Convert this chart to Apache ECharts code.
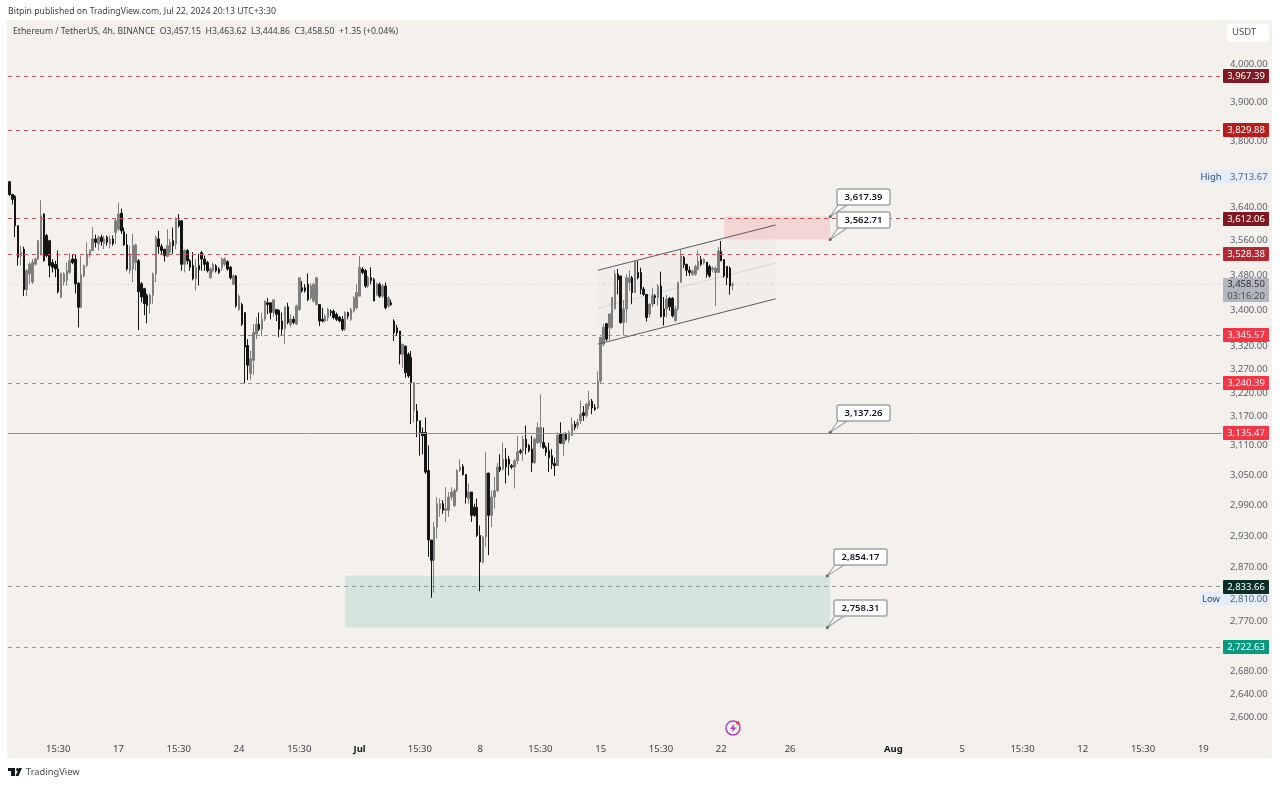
<!DOCTYPE html>
<html>
<head>
<meta charset="utf-8">
<title>ETHUSDT 4h</title>
<script src="https://cdn.jsdelivr.net/npm/echarts@6/dist/echarts.min.js"></script>
<style>
  html, body { margin: 0; padding: 0; background: #fff; }
  #chart { width: 1280px; height: 785px; }
</style>
</head>
<body>
<div id="chart"></div>
<script>
// candles, one row per 4h bar: open, close, low, high
const candles = [
  [3701,3670,3666,3703],[3670,3658,3646,3672],[3666,3595,3568,3668],[3595,3521,3502,3597],[3525,3533,3502,3548],
  [3540,3447,3432,3546],[3447,3490,3432,3494],[3483,3505,3460,3509],[3464,3509,3460,3517],[3505,3517,3502,3521],
  [3517,3560,3515,3562],[3529,3619,3525,3656],[3623,3513,3511,3625],[3572,3525,3521,3576],[3560,3502,3475,3562],
  [3509,3498,3486,3517],[3505,3494,3475,3513],[3494,3442,3438,3537],[3430,3483,3427,3486],[3464,3483,3456,3486],
  [3468,3490,3456,3509],[3486,3513,3483,3531],[3517,3509,3505,3529],[3517,3460,3438,3527],[3461,3407,3362,3464],
  [3407,3481,3405,3525],[3478,3502,3475,3504],[3502,3529,3498,3556],[3529,3537,3521,3540],[3537,3564,3535,3592],
  [3564,3556,3544,3574],[3552,3568,3537,3572],[3568,3558,3548,3574],[3553,3564,3540,3572],[3568,3556,3548,3572],
  [3552,3564,3542,3572],[3564,3553,3548,3572],[3579,3607,3552,3611],[3587,3623,3583,3650],[3625,3583,3576,3636],
  [3581,3550,3548,3591],[3550,3494,3490,3576],[3490,3529,3483,3548],[3494,3548,3464,3576],[3509,3550,3490,3553],
  [3513,3442,3356,3517],[3460,3430,3418,3464],[3449,3415,3389,3451],[3434,3411,3371,3438],[3415,3434,3393,3438],
  [3434,3483,3415,3486],[3483,3568,3464,3572],[3564,3546,3529,3583],[3546,3537,3529,3552],[3540,3525,3511,3540],
  [3523,3548,3521,3587],[3533,3556,3529,3564],[3560,3548,3529,3591],[3552,3611,3540,3615],[3607,3595,3591,3623],
  [3607,3505,3490,3607],[3505,3537,3486,3540],[3537,3513,3505,3540],[3513,3498,3490,3517],[3502,3472,3468,3533],
  [3472,3498,3445,3517],[3502,3492,3456,3529],[3532,3517,3490,3536],[3517,3505,3490,3525],[3509,3490,3486,3513],
  [3474,3494,3472,3498],[3490,3505,3486,3509],[3501,3490,3486,3505],[3494,3486,3482,3498],[3498,3517,3490,3521],
  [3505,3517,3501,3521],[3511,3494,3490,3514],[3498,3474,3470,3501],[3459,3478,3457,3482],[3478,3410,3406,3480],
  [3402,3432,3399,3436],[3413,3369,3365,3417],[3395,3319,3240,3395],[3322,3279,3247,3336],[3261,3293,3247,3311],
  [3290,3351,3258,3369],[3347,3369,3336,3384],[3369,3358,3354,3395],[3358,3380,3343,3395],[3380,3421,3376,3422],
  [3417,3413,3391,3428],[3417,3395,3380,3417],[3395,3424,3385,3424],[3402,3391,3376,3402],[3400,3358,3340,3402],
  [3376,3358,3343,3395],[3360,3408,3326,3408],[3408,3373,3369,3417],[3369,3380,3362,3391],[3380,3373,3369,3387],
  [3370,3410,3367,3413],[3402,3474,3399,3474],[3451,3444,3440,3466],[3451,3444,3440,3459],[3459,3424,3421,3484],
  [3428,3455,3424,3461],[3421,3459,3417,3463],[3413,3474,3411,3476],[3413,3376,3365,3413],[3380,3376,3373,3406],
  [3376,3387,3373,3391],[3384,3402,3376,3406],[3398,3395,3387,3402],[3398,3384,3380,3402],[3391,3380,3376,3395],
  [3385,3376,3373,3387],[3380,3358,3354,3387],[3358,3395,3354,3398],[3395,3387,3380,3397],[3380,3402,3376,3406],
  [3398,3428,3395,3432],[3406,3440,3402,3459],[3432,3498,3432,3524],[3494,3486,3482,3498],[3490,3455,3451,3494],
  [3455,3474,3451,3478],[3474,3467,3459,3498],[3470,3421,3421,3474],[3436,3459,3432,3463],[3459,3432,3428,3463],
  [3432,3455,3428,3459],[3455,3406,3402,3463],[3410,3428,3406,3432],[3417,3413,3410,3424],[3376,3350,3332,3380],
  [3361,3350,3343,3368],[3354,3303,3281,3354],[3303,3325,3274,3325],[3321,3263,3252,3321],[3303,3256,3252,3307],
  [3296,3242,3154,3310],[3182,3242,3158,3242],[3182,3161,3127,3196],[3161,3137,3089,3161],[3137,3130,3092,3147],
  [3137,3056,3052,3168],[3059,2922,2890,3110],[2922,2883,2813,2922],[2883,2947,2822,2957],[2947,2993,2925,3006],
  [2983,2993,2967,3003],[2993,2980,2973,3000],[2980,2983,2957,3026],[2980,3006,2967,3016],[3006,3016,3000,3026],
  [2989,3019,2986,3023],[3019,3059,3016,3062],[3059,3066,3056,3082],[3067,3051,3049,3072],[3051,3006,2993,3051],
  [3003,3016,2993,3033],[3016,2970,2957,3016],[2986,2970,2967,2993],[2986,2931,2928,3003],[2931,2880,2825,2950],
  [2880,2928,2877,2931],[2928,3054,2909,3096],[3054,2970,2893,3054],[2970,3006,2947,3019],[3006,3019,2983,3046],
  [3019,3066,3016,3075],[3066,3060,3056,3092],[3062,3082,3059,3116],[3082,3066,3033,3105],[3082,3072,3049,3089],
  [3069,3066,3062,3072],[3066,3079,3023,3082],[3079,3097,3072,3130],[3099,3096,3092,3103],[3099,3123,3079,3130],
  [3123,3106,3092,3151],[3110,3099,3096,3113],[3103,3075,3056,3130],[3075,3123,3072,3127],[3116,3147,3113,3158],
  [3116,3147,3106,3217],[3116,3106,3103,3147],[3106,3096,3089,3110],[3099,3085,3056,3116],[3089,3072,3062,3103],
  [3073,3069,3048,3085],[3069,3130,3069,3137],[3134,3115,3113,3158],[3113,3134,3089,3137],[3134,3123,3120,3137],
  [3121,3137,3115,3141],[3130,3154,3130,3168],[3154,3147,3141,3161],[3151,3158,3144,3165],[3161,3175,3154,3203],
  [3178,3172,3161,3192],[3172,3196,3168,3199],[3192,3203,3185,3224],[3202,3188,3175,3207],[3189,3185,3182,3196],
  [3188,3245,3185,3266],[3245,3340,3240,3341],[3325,3362,3320,3370],[3370,3336,3332,3372],[3362,3392,3334,3394],
  [3362,3429,3359,3430],[3403,3482,3403,3491],[3482,3470,3436,3494],[3478,3373,3370,3478],[3373,3403,3344,3423],
  [3403,3474,3373,3482],[3463,3474,3444,3491],[3474,3440,3414,3478],[3440,3512,3440,3513],[3486,3474,3470,3513],
  [3486,3448,3436,3497],[3448,3436,3433,3453],[3436,3384,3375,3436],[3392,3414,3384,3415],[3414,3433,3407,3451],
  [3433,3429,3414,3436],[3429,3455,3410,3459],[3455,3386,3384,3488],[3403,3386,3366,3430],[3403,3425,3384,3435],
  [3427,3408,3399,3430],[3427,3388,3384,3430],[3377,3403,3375,3410],[3403,3463,3399,3465],[3463,3524,3463,3539],
  [3521,3504,3496,3524],[3505,3491,3478,3505],[3491,3486,3478,3500],[3482,3489,3478,3493],[3482,3500,3478,3504],
  [3493,3512,3491,3537],[3516,3505,3500,3524],[3508,3516,3504,3519],[3510,3482,3474,3510],[3500,3478,3474,3504],
  [3493,3496,3486,3500],[3486,3496,3410,3500],[3486,3536,3486,3545],[3534,3513,3512,3559],[3516,3478,3474,3516],
  [3500,3474,3457,3500],[3496,3455,3435,3500],[3457.15,3458.5,3444.86,3463.62]
]

const barCount = 423

// time axis labels and the bar each one sits on
const xTickBars = [17, 38, 59, 80, 101, 122, 143, 164, 185, 206, 227, 248, 272, 308, 332, 353, 374, 395, 416]
const xTickLabels = ['15:30', '17', '15:30', '24', '15:30', 'Jul', '15:30', '8', '15:30', '15', '15:30', '22', '26', 'Aug', '5', '15:30', '12', '15:30', '19']

const yTicks = [4000, 3900, 3800, 3720, 3640, 3560, 3480, 3400, 3320, 3270, 3220, 3170, 3110, 3050, 2990, 2930, 2870, 2810, 2770, 2680, 2640, 2600]

// horizontal levels
const levelPrices = [3967.39, 3829.88, 3612.06, 3528.38, 3345.57, 3240.39, 3135.47, 2833.66, 2722.63]
const lastPrice = 3458.50
const lastCountdown = '03:16:20'
const highPrice = 3713.67
const lowPrice = 2810.00

// callouts: bar, price
const calloutBars = [286, 286, 286, 285, 285]
const calloutPrices = [3617.39, 3562.71, 3137.26, 2854.17, 2758.31]

// zones: first bar, last bar, top price, bottom price
const redZone = [249, 286, 3617.39, 3562.71]
const greenZone = [117, 286, 2854.17, 2758.31]

// rising channel: first bar, last bar, then start and end price of each line
const channelBars = [205, 267]
const channelUpper = [3491, 3597]
const channelMiddle = [3405, 3508]
const channelLower = [3325, 3426]

const levelColors = ['#801922', '#b71c1c', '#801922', '#b22833', '#f23645', '#f23645', '#f23645', '#0b2e26', '#089981']
const lineColors = ['#c2545c', '#c9565c', '#c2545c', '#c9565c', '#e96a74', '#e96a74', '#ef6a74', '#8e9a96', '#5fb3a3']
const font = '"Noto Sans", sans-serif'
const bg = '#f4f0ec'

const fmt = v => v.toLocaleString('en-US', { minimumFractionDigits: 2, maximumFractionDigits: 2 })

const categories = Array.from({ length: barCount }, (_, i) => String(i))
const xLabelAt = {}
xTickBars.forEach((bar, i) => { xLabelAt[bar] = xTickLabels[i] })

const levelLines = levelPrices.map((price, i) => ({
  yAxis: price,
  lineStyle: { color: lineColors[i], type: i === 6 ? 'solid' : [4, 4], width: 1 }
}))
levelLines.push({ yAxis: lastPrice, lineStyle: { color: 'rgba(110,110,110,0.22)', type: [1, 2], width: 1 } })

const channelLine = (prices, color) => [
  { coord: [channelBars[0], prices[0]], lineStyle: { color: color, type: 'solid', width: 1 } },
  { coord: [channelBars[1], prices[1]] }
]

// y axis price tags, drawn over the tick labels
const tagRows = levelPrices.map((price, i) => [0, price, i])

function renderTag(params, api) {
  const i = api.value(2)
  const y = Math.round(api.coord([0, api.value(1)])[1])
  const x = params.coordSys.x + params.coordSys.width + 1
  return {
    type: 'group',
    children: [
      { type: 'rect', shape: { x: x, y: y - 7, width: 46, height: 14, r: 1 }, style: { fill: levelColors[i] } },
      { type: 'text', style: { x: x + 23, y: y, text: fmt(api.value(1)), fill: '#fff', font: '9.5px ' + font, textAlign: 'center', textVerticalAlign: 'middle' } }
    ]
  }
}

function renderLastTag(params, api) {
  const y = Math.round(api.coord([0, api.value(1)])[1])
  const x = params.coordSys.x + params.coordSys.width + 1
  return {
    type: 'group',
    children: [
      { type: 'rect', shape: { x: x, y: y - 6, width: 46, height: 24, r: 1 }, style: { fill: '#b4b6bd' } },
      { type: 'text', style: { x: x + 23, y: y, text: fmt(api.value(1)), fill: '#2a2e39', font: '9.5px ' + font, textAlign: 'center', textVerticalAlign: 'middle' } },
      { type: 'text', style: { x: x + 23, y: y + 12, text: lastCountdown, fill: '#4a4e59', font: '9.5px ' + font, textAlign: 'center', textVerticalAlign: 'middle' } }
    ]
  }
}

function renderExtreme(params, api) {
  const y = Math.round(api.coord([0, api.value(1)])[1])
  const x = params.coordSys.x + params.coordSys.width
  const name = api.value(2) === 0 ? 'High' : 'Low'
  return {
    type: 'group',
    children: [
      { type: 'rect', shape: { x: x - 22, y: y - 7, width: 70, height: 13 }, style: { fill: '#e4eefa' } },
      { type: 'text', style: { x: x - 11, y: y, text: name, fill: '#2b4a6f', font: '9.5px ' + font, textAlign: 'center', textVerticalAlign: 'middle' } },
      { type: 'text', style: { x: x + 8, y: y, text: fmt(api.value(1)), fill: '#5d606b', font: '9.5px ' + font, textAlign: 'left', textVerticalAlign: 'middle' } }
    ]
  }
}

function renderCallout(params, api) {
  const p = api.coord([api.value(0), api.value(1)])
  const left = Math.round(p[0]) + 7
  const top = Math.round(p[1]) - 27
  return {
    type: 'group',
    children: [
      { type: 'polygon', shape: { points: [[p[0], p[1]], [left + 1, top + 16], [left + 10, top + 16]] }, style: { fill: '#fff', stroke: '#a0a3a8', lineWidth: 1.2 } },
      { type: 'circle', shape: { cx: p[0], cy: p[1], r: 1.5 }, style: { fill: '#666' } },
      { type: 'rect', shape: { x: left, y: top, width: 53, height: 16, r: 2 }, style: { fill: '#fff', stroke: '#a0a3a8', lineWidth: 1.5 } },
      { type: 'text', style: { x: left + 26.5, y: top + 8, text: fmt(api.value(1)), fill: '#131722', font: '600 9.5px ' + font, textAlign: 'center', textVerticalAlign: 'middle' } }
    ]
  }
}

function renderChannel(params, api) {
  const a = api.coord([channelBars[0], channelUpper[0]])
  const b = api.coord([channelBars[1], channelUpper[1]])
  const c = api.coord([channelBars[1], channelLower[1]])
  const d = api.coord([channelBars[0], channelLower[0]])
  return {
    type: 'polygon',
    shape: { points: [a, b, c, d] },
    style: { fill: 'rgba(190,170,215,0.04)' }
  }
}

const chart = echarts.init(document.getElementById('chart'))

chart.setOption({
  animation: false,
  backgroundColor: '#fff',
  textStyle: { fontFamily: font },
  graphic: [
    { type: 'rect', z: -10, silent: true, shape: { x: 7, y: 20, width: 1265, height: 738 }, style: { fill: bg } },
    { type: 'text', left: 8, top: 7, style: { text: 'Bitpin published on TradingView.com, Jul 22, 2024 20:13 UTC+3:30', fill: '#3c3f47', font: '8.7px ' + font } },
    { type: 'text', left: 13, top: 27, style: { text: 'Ethereum / TetherUS, 4h, BINANCE  O3,457.15  H3,463.62  L3,444.86  C3,458.50  +1.35 (+0.04%)', fill: '#3c3f47', font: '8.7px ' + font } },
    { type: 'rect', shape: { x: 1227, y: 24, width: 42, height: 18, r: 3 }, style: { fill: '#fff' } },
    { type: 'text', left: 1232, top: 27, style: { text: 'USDT', fill: '#4a4e59', font: '9.5px ' + font } },
    // lightning icon
    { type: 'circle', shape: { cx: 733, cy: 728, r: 7 }, style: { fill: 'none', stroke: '#a83fc4', lineWidth: 1.5 } },
    { type: 'polygon', shape: { points: [[734.5, 723.5], [730, 729], [733, 729], [732, 732.5], [736.5, 727.5], [733.5, 727.5]] }, style: { fill: '#a83fc4' } },
    { type: 'circle', shape: { cx: 738, cy: 723, r: 1.8 }, style: { fill: '#f23645' } },
    // TradingView mark
    { type: 'rect', shape: { x: 8, y: 768, width: 7, height: 3 }, style: { fill: '#131722' } },
    { type: 'rect', shape: { x: 11, y: 768, width: 4, height: 8 }, style: { fill: '#131722' } },
    { type: 'circle', shape: { cx: 17.5, cy: 769.5, r: 1.5 }, style: { fill: '#131722' } },
    { type: 'polygon', shape: { points: [[19, 768], [22, 768], [18.5, 776], [15.5, 776]] }, style: { fill: '#131722' } },
    { type: 'text', left: 26, top: 768, style: { text: 'TradingView', fill: '#4a4e59', font: '9.3px ' + font } }
  ],
  grid: { left: 8, right: 58, top: 21, bottom: 26, containLabel: false },
  xAxis: {
    type: 'category',
    data: categories,
    boundaryGap: true,
    axisLine: { show: false },
    axisTick: { show: false },
    splitLine: { show: false },
    axisLabel: {
      inside: true,
      margin: 5,
      fontSize: 9.5,
      color: '#3c3f47',
      fontFamily: font,
      hideOverlap: false,
      interval: index => xLabelAt[index] !== undefined,
      formatter: (value, index) => {
        const label = xLabelAt[index] || ''
        return label === 'Jul' || label === 'Aug' ? '{b|' + label + '}' : label
      },
      rich: { b: { fontWeight: 'bold', fontSize: 9.5, color: '#131722', fontFamily: font } }
    }
  },
  yAxis: {
    type: 'log',
    position: 'right',
    min: 2529,
    max: 4115,
    axisLine: { show: false },
    axisTick: { show: false },
    splitLine: { show: false },
    minorTick: { show: false },
    axisLabel: {
      customValues: yTicks,
      margin: 8,
      fontSize: 9.5,
      color: '#5d606b',
      fontFamily: font,
      formatter: v => fmt(v)
    }
  },
  series: [
    {
      type: 'custom',
      z: 1,
      silent: true,
      coordinateSystem: 'cartesian2d',
      renderItem: renderChannel,
      data: [[channelBars[0], channelUpper[0]]],
      encode: { x: 0, y: 1 }
    },
    {
      type: 'candlestick',
      z: 3,
      data: candles,
      barWidth: 2,
      clip: false,
      itemStyle: {
        color: '#7f7f7f',
        color0: '#141414',
        borderColor: '#7f7f7f',
        borderColor0: '#141414',
        borderWidth: 1
      },
      markLine: {
        silent: true,
        symbol: 'none',
        label: { show: false },
        animation: false,
        data: levelLines.concat([
          channelLine(channelUpper, '#5a5d66'),
          channelLine(channelMiddle, 'rgba(0,0,0,0.10)'),
          channelLine(channelLower, '#5a5d66')
        ])
      },
      markArea: {
        silent: true,
        data: [
          [
            { coord: [redZone[0], redZone[2]], itemStyle: { color: 'rgba(242,54,69,0.14)' } },
            { coord: [redZone[1], redZone[3]] }
          ],
          [
            { coord: [greenZone[0], greenZone[2]], itemStyle: { color: 'rgba(8,153,129,0.13)' } },
            { coord: [greenZone[1], greenZone[3]] }
          ]
        ]
      }
    },
    {
      type: 'custom',
      z: 5,
      silent: true,
      clip: false,
      renderItem: renderExtreme,
      data: [[0, highPrice, 0], [0, lowPrice, 1]],
      encode: { x: 0, y: 1 }
    },
    {
      type: 'custom',
      z: 6,
      silent: true,
      clip: false,
      renderItem: renderTag,
      data: tagRows,
      encode: { x: 0, y: 1 }
    },
    {
      type: 'custom',
      z: 6,
      silent: true,
      clip: false,
      renderItem: renderLastTag,
      data: [[0, lastPrice]],
      encode: { x: 0, y: 1 }
    },
    {
      type: 'custom',
      z: 7,
      silent: true,
      clip: false,
      renderItem: renderCallout,
      data: calloutBars.map((bar, i) => [bar, calloutPrices[i]]),
      encode: { x: 0, y: 1 }
    }
  ]
})
</script>
</body>
</html>
